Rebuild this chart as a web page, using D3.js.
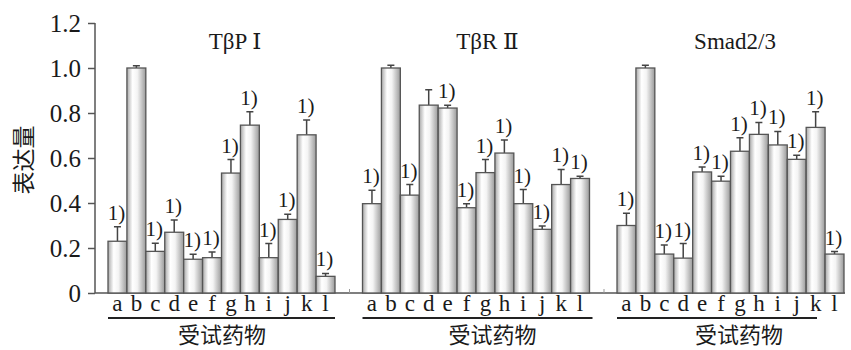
<!DOCTYPE html>
<html>
<head>
<meta charset="utf-8">
<title>表达量</title>
<script src="https://cdn.jsdelivr.net/npm/d3@7/dist/d3.min.js"></script>
<style>
body { margin: 0; background: #fff; }
svg { display: block; }
</style>
</head>
<body>
<script>
// data
let panels = ['TβP Ⅰ', 'TβR Ⅱ', 'Smad2/3'];
let drugs = ['a', 'b', 'c', 'd', 'e', 'f', 'g', 'h', 'i', 'j', 'k', 'l'];
let yTicks = [0, 0.2, 0.4, 0.6, 0.8, 1.0, 1.2];

let tbp1 = [0.23, 1.00, 0.185, 0.27, 0.15, 0.157, 0.533, 0.746, 0.157, 0.327, 0.703, 0.074];
let tbp1Err = [0.065, 0.01, 0.036, 0.055, 0.022, 0.025, 0.06, 0.06, 0.063, 0.023, 0.066, 0.013];
let tbp1Sig = [1, 0, 1, 1, 1, 1, 1, 1, 1, 1, 1, 1];

let tbr2 = [0.397, 1.00, 0.435, 0.835, 0.822, 0.379, 0.535, 0.622, 0.397, 0.283, 0.482, 0.509];
let tbr2Err = [0.06, 0.012, 0.047, 0.068, 0.013, 0.018, 0.058, 0.058, 0.063, 0.015, 0.067, 0.01];
let tbr2Sig = [1, 0, 1, 0, 1, 1, 1, 1, 1, 1, 1, 1];

let smad = [0.30, 1.00, 0.173, 0.155, 0.538, 0.497, 0.63, 0.705, 0.658, 0.594, 0.736, 0.173];
let smadErr = [0.054, 0.012, 0.04, 0.065, 0.022, 0.022, 0.06, 0.053, 0.06, 0.018, 0.07, 0.011];
let smadSig = [1, 0, 1, 1, 1, 1, 1, 1, 1, 1, 1, 1];

let series = [
    {name: panels[0], values: tbp1, err: tbp1Err, sig: tbp1Sig},
    {name: panels[1], values: tbr2, err: tbr2Err, sig: tbr2Sig},
    {name: panels[2], values: smad, err: smadErr, sig: smadSig}
];

let width = 851, height = 350;
let axisX = 95;
let serif = '"Liberation Serif", "Times New Roman", Times, "DejaVu Serif", serif';
let cjk = '"Noto Sans CJK SC", "Noto Sans CJK JP", sans-serif';
let ink = '#1a1a1a';
let titleShift = [14, 12, 5];
let xlabShift = [1, 17, 9];
let underlineEnd = [227, 230, 200];

let svg = d3.select('body').append('svg').attr('width', width).attr('height', height);

let grad = svg.append('defs').append('linearGradient').attr('id', 'cyl')
    .attr('x1', '0%').attr('x2', '100%').attr('y1', '0%').attr('y2', '0%');
grad.append('stop').attr('offset', '0%').attr('stop-color', '#a8a8a8');
grad.append('stop').attr('offset', '30%').attr('stop-color', '#ffffff');
grad.append('stop').attr('offset', '55%').attr('stop-color', '#f4f4f4');
grad.append('stop').attr('offset', '100%').attr('stop-color', '#9a9a9a');

let y = d3.scaleLinear().domain([0, 1.2]).range([293, 23]);
let panelScale = d3.scaleBand().domain(panels).range([axisX, axisX + 3 * 254.5]);

// y axis
let yAxis = svg.append('g').attr('transform', 'translate(' + axisX + ',0)')
    .call(d3.axisLeft(y).tickValues(yTicks).tickSize(7).tickPadding(7)
        .tickFormat(d => d === 0 ? '0' : d3.format('.1f')(d)));
yAxis.attr('font-family', null).attr('font-size', null);
yAxis.select('.domain').attr('stroke', '#555').attr('stroke-width', 1.5).attr('d', 'M0,' + y(1.2) + 'V' + y(0));
yAxis.selectAll('.tick line').attr('stroke', '#555').attr('stroke-width', 1.5);
yAxis.selectAll('.tick text').style('font-family', serif).style('font-size', '25px')
    .attr('fill', ink).attr('dy', '0.34em');

svg.append('text').attr('transform', 'translate(32,160) rotate(-90)')
    .attr('text-anchor', 'middle').style('font-family', cjk).style('font-size', '23px')
    .attr('fill', ink).text('表达量');

// baseline
svg.append('line').attr('x1', axisX).attr('x2', 845).attr('y1', y(0)).attr('y2', y(0))
    .attr('stroke', '#555').attr('stroke-width', 1.5);
panels.slice(1).forEach(p => {
    svg.append('line').attr('x1', panelScale(p)).attr('x2', panelScale(p))
        .attr('y1', y(0)).attr('y2', y(0) - 4).attr('stroke', '#999').attr('stroke-width', 1);
});

series.forEach((s, pi) => {
    let x0 = panelScale(s.name) + 13;
    let x = d3.scaleBand().domain(drugs).range([x0, x0 + 227]).padding(0);
    let g = svg.append('g');
    let rows = drugs.map((d, i) => ({d: d, v: s.values[i], e: s.err[i], sig: s.sig[i]}));

    // error bars
    g.selectAll('.err').data(rows).enter().append('path')
        .attr('d', r => {
            let cx = x(r.d) + x.bandwidth() / 2;
            return 'M' + cx + ',' + y(r.v) + 'V' + y(r.v + r.e) + 'M' + (cx - 3.5) + ',' + y(r.v + r.e) + 'H' + (cx + 3.5);
        })
        .attr('stroke', '#444').attr('stroke-width', 1.5).attr('fill', 'none');

    g.selectAll('.bar').data(rows).enter().append('rect')
        .attr('x', r => x(r.d)).attr('width', x.bandwidth())
        .attr('y', r => y(r.v)).attr('height', r => y(0) - y(r.v))
        .attr('fill', 'url(#cyl)').attr('stroke', '#555').attr('stroke-width', 1.3);

    g.selectAll('.sig').data(rows.filter(r => r.sig)).enter().append('text')
        .style('font-family', serif).style('font-size', '21px').attr('fill', ink)
        .attr('text-anchor', 'middle')
        .attr('x', r => x(r.d) + x.bandwidth() / 2 - 1).attr('y', r => y(r.v + r.e) - 7)
        .text('1)');

    // drug letters
    g.selectAll('.lab').data(drugs).enter().append('text')
        .style('font-family', serif).style('font-size', '23px').attr('fill', ink)
        .attr('text-anchor', 'middle')
        .attr('x', d => x(d) + x.bandwidth() / 2).attr('y', 311).text(d => d);

    g.append('line').attr('x1', x0).attr('x2', x0 + underlineEnd[pi]).attr('y1', 318).attr('y2', 318)
        .attr('stroke', '#222').attr('stroke-width', 2);

    g.append('text').style('font-family', cjk).style('font-size', '22px').attr('fill', ink)
        .attr('text-anchor', 'middle')
        .attr('x', x0 + 113 + xlabShift[pi]).attr('y', 343).text('受试药物');

    g.append('text').style('font-family', serif).style('font-size', '23px').attr('fill', ink)
        .attr('text-anchor', 'middle')
        .attr('x', x0 + 113 + titleShift[pi]).attr('y', 49).text(s.name);
});
</script>
</body>
</html>
